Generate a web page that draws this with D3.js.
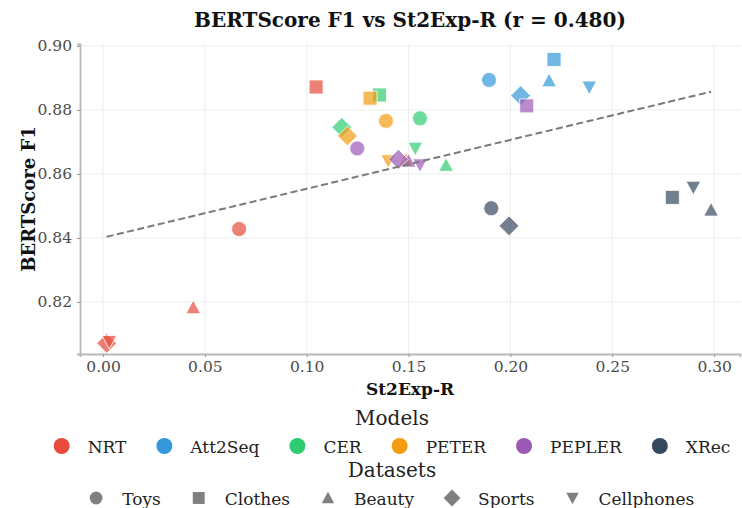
<!DOCTYPE html>
<html>
<head>
<meta charset="utf-8">
<script src="https://cdn.jsdelivr.net/npm/d3@7"></script>
<style>
  body { margin: 0; background: #fff; }
  svg { display: block; font-family: 'DejaVu Serif', serif; }
</style>
</head>
<body>
<svg id="chart" width="742" height="508"></svg>
<script>
// datasets order: Toys, Clothes, Beauty, Sports, Cellphones
const models = ['NRT', 'Att2Seq', 'CER', 'PETER', 'PEPLER', 'XRec'];
const datasets = ['Toys', 'Clothes', 'Beauty', 'Sports', 'Cellphones'];

const st2expR = {
    NRT:     [0.0668, 0.1046, 0.0443, 0.0018, 0.0031],
    Att2Seq: [0.1895, 0.2214, 0.2190, 0.2050, 0.2387],
    CER:     [0.1556, 0.1357, 0.1684, 0.1172, 0.1533],
    PETER:   [0.1389, 0.1311, 0.1487, 0.1200, 0.1400],
    PEPLER:  [0.1248, 0.2080, 0.1500, 0.1450, 0.1556],
    XRec:    [0.1906, 0.2795, 0.2985, 0.1993, 0.2898]
};
const bertF1 = {
    NRT:     [0.8428, 0.8872, 0.8183, 0.8071, 0.8076],
    Att2Seq: [0.8894, 0.8958, 0.8892, 0.8845, 0.8871],
    CER:     [0.8774, 0.8847, 0.8628, 0.8746, 0.8680],
    PETER:   [0.8766, 0.8837, 0.8644, 0.8719, 0.8641],
    PEPLER:  [0.8680, 0.8813, 0.8641, 0.8646, 0.8628],
    XRec:    [0.8493, 0.8527, 0.8488, 0.8438, 0.8558]
};
const xTicks = [0.00, 0.05, 0.10, 0.15, 0.20, 0.25, 0.30];
const yTicks = [0.82, 0.84, 0.86, 0.88, 0.90];

const colors = ['#e74c3c', '#3498db', '#2ecc71', '#f39c12', '#9b59b6', '#34495e'];
const color = d3.scaleOrdinal().domain(models).range(colors);

const svg = d3.select('#chart');
const pLeft = 80, pRight = 740, pTop = 44, pBottom = 354;

const x = d3.scaleLinear().domain([-0.0113, 0.3127]).range([pLeft, pRight]);
const y = d3.scaleLinear().domain([0.80375, 0.90063]).range([pBottom, pTop]);

// marker paths, centred on 0,0
function shapePath(ds, k) {
    k = k || 1;
    if (ds === 'Toys') return d3.symbol(d3.symbolCircle, 177 * k * k)();
    if (ds === 'Clothes') return d3.symbol(d3.symbolSquare, 196 * k * k)();
    if (ds === 'Sports') {
        const h = 9.9 * k;
        return `M0,${-h}L${h},0L0,${h}L${-h},0Z`;
    }
    const h = 7.3 * k;
    if (ds === 'Beauty') return `M0,${-h}L${h},${h * 0.85}L${-h},${h * 0.85}Z`;
    return `M0,${h}L${h},${-h * 0.85}L${-h},${-h * 0.85}Z`;
}

const points = [];
models.forEach(m => {
    datasets.forEach((ds, i) => {
        points.push({ model: m, dataset: ds, x: st2expR[m][i], y: bertF1[m][i] });
    });
});

// grid
svg.append('g')
    .selectAll('line')
    .data(xTicks)
    .join('line')
    .attr('x1', d => x(d)).attr('x2', d => x(d))
    .attr('y1', pTop).attr('y2', pBottom)
    .attr('stroke', '#ededed').attr('stroke-width', 1);

svg.append('g')
    .selectAll('line')
    .data(yTicks)
    .join('line')
    .attr('x1', pLeft).attr('x2', pRight)
    .attr('y1', d => y(d)).attr('y2', d => y(d))
    .attr('stroke', '#ededed').attr('stroke-width', 1);

// axes
const xAxis = svg.append('g')
    .attr('transform', `translate(0,${pBottom})`)
    .call(d3.axisBottom(x).tickValues(xTicks).tickFormat(d3.format('.2f')).tickSize(3).tickPadding(4));
const yAxis = svg.append('g')
    .attr('transform', `translate(${pLeft},0)`)
    .call(d3.axisLeft(y).tickValues(yTicks).tickFormat(d3.format('.2f')).tickSize(3).tickPadding(5));

[xAxis, yAxis].forEach(a => {
    a.select('.domain').attr('stroke', '#b8b8b8').attr('stroke-width', 1.8);
    a.selectAll('.tick line').attr('stroke', '#999');
    a.selectAll('.tick text')
        .attr('fill', '#4a4a4a')
        .style('font-family', 'DejaVu Serif')
        .style('font-size', '15.5px');
});

// points
svg.append('g')
    .selectAll('path')
    .data(points)
    .join('path')
    .attr('transform', d => `translate(${x(d.x)},${y(d.y)})`)
    .attr('d', d => shapePath(d.dataset))
    .attr('fill', d => color(d.model))
    .attr('fill-opacity', 0.7)
    .attr('stroke', '#fff')
    .attr('stroke-width', 0.8);

// least squares fit
const mx = d3.mean(points, d => d.x), my = d3.mean(points, d => d.y);
const slope = d3.sum(points, d => (d.x - mx) * (d.y - my)) / d3.sum(points, d => (d.x - mx) ** 2);
const icpt = my - slope * mx;
const xr = d3.extent(points, d => d.x);

svg.append('line')
    .attr('x1', x(xr[0])).attr('y1', y(icpt + slope * xr[0]))
    .attr('x2', x(xr[1])).attr('y2', y(icpt + slope * xr[1]))
    .attr('stroke', '#7a7a7a')
    .attr('stroke-width', 2)
    .attr('stroke-dasharray', '7,3.5');

// titles
svg.append('text')
    .attr('x', (pLeft + pRight) / 2).attr('y', 27)
    .attr('text-anchor', 'middle')
    .attr('font-weight', 'bold')
    .attr('font-size', '20px')
    .attr('fill', '#111')
    .text('BERTScore F1 vs St2Exp-R (r = 0.480)');

svg.append('text')
    .attr('x', (pLeft + pRight) / 2).attr('y', 395)
    .attr('text-anchor', 'middle')
    .attr('font-weight', 'bold')
    .attr('font-size', '17px')
    .attr('fill', '#111')
    .text('St2Exp-R');

svg.append('text')
    .attr('transform', `translate(35,${(pTop + pBottom) / 2}) rotate(-90)`)
    .attr('text-anchor', 'middle')
    .attr('font-weight', 'bold')
    .attr('font-size', '18px')
    .attr('fill', '#111')
    .text('BERTScore F1');

// legends
const legendCx = 392;

function legendRow(items, yRow, markerFn, fillFn, scale) {
    const g = svg.append('g');
    let cur = 0;
    items.forEach(it => {
        g.append('path')
            .attr('transform', `translate(${cur},${yRow})`)
            .attr('d', markerFn(it, scale))
            .attr('fill', fillFn(it));
        const t = g.append('text')
            .attr('x', cur + 26).attr('y', yRow + 7)
            .attr('font-size', '17px')
            .attr('fill', '#222')
            .text(it);
        cur = cur + 26 + t.node().getComputedTextLength() + 38;
    });
    const bb = g.node().getBBox();
    g.attr('transform', `translate(${legendCx - (bb.x + bb.width / 2)},0)`);
}

svg.append('text')
    .attr('x', legendCx).attr('y', 425)
    .attr('text-anchor', 'middle')
    .attr('font-size', '20px')
    .attr('fill', '#222')
    .text('Models');
legendRow(models, 446, () => d3.symbol(d3.symbolCircle, 200)(), m => color(m), 1);

svg.append('text')
    .attr('x', legendCx).attr('y', 477)
    .attr('text-anchor', 'middle')
    .attr('font-size', '20px')
    .attr('fill', '#222')
    .text('Datasets');
legendRow(datasets, 498, shapePath, () => '#808080', 0.85);
</script>
</body>
</html>
